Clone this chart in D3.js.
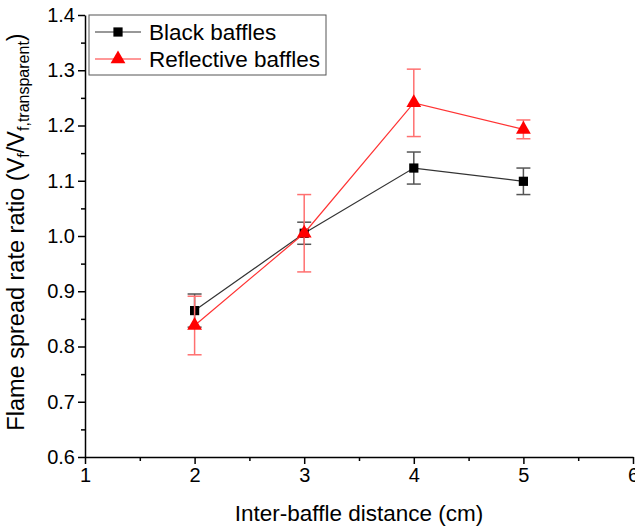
<!DOCTYPE html>
<html>
<head>
<meta charset="utf-8">
<script src="https://cdn.jsdelivr.net/npm/d3@7"></script>
<style>
  body { margin: 0; background: #fff; }
  svg { font-family: "Liberation Sans", Arial, sans-serif; }
  .axis path, .axis line { stroke: #000; stroke-width: 1.5; }
  .axis text { font-size: 20px; fill: #000; }
</style>
</head>
<body>
<div id="chart"></div>
<script>
var distances = [2, 3, 4, 5];
var blackValues = [0.865, 1.005, 1.123, 1.099];
var blackErrors = [0.030, 0.020, 0.029, 0.024];
var reflectiveValues = [0.838, 1.005, 1.241, 1.193];
var reflectiveErrors = [0.053, 0.070, 0.061, 0.017];
var xTicks = [1, 2, 3, 4, 5, 6];
var yTicks = [0.6, 0.7, 0.8, 0.9, 1.0, 1.1, 1.2, 1.3, 1.4];

var W = 635, H = 527;
var margin = {top: 15, right: 2, bottom: 70, left: 85};
var width = 633 - margin.left, height = 457 - margin.top;

var series = [
  {name: "Black baffles", values: blackValues, errors: blackErrors, color: "#000", line: "#333", err: "#555", shape: "square"},
  {name: "Reflective baffles", values: reflectiveValues, errors: reflectiveErrors, color: "#ff0000", line: "#ff3333", err: "#ff7070", shape: "triangle"}
];

var x = d3.scaleLinear().domain([1, 6]).range([0, width]);
var y = d3.scaleLinear().domain([0.6, 1.4]).range([height, 0]);

var svg = d3.select("#chart").append("svg")
    .attr("width", W).attr("height", H)
  .append("g")
    .attr("transform", "translate(" + margin.left + "," + margin.top + ")");

// minor ticks
var xMinor = d3.range(1.5, 6, 1);
var yMinor = d3.range(0.65, 1.4, 0.1);
svg.append("g").attr("class", "axis")
    .attr("transform", "translate(0," + height + ")")
    .call(d3.axisBottom(x).tickValues(xMinor).tickSize(4).tickFormat(""))
    .select(".domain").remove();
svg.append("g").attr("class", "axis")
    .call(d3.axisLeft(y).tickValues(yMinor).tickSize(4).tickFormat(""))
    .select(".domain").remove();

svg.append("g").attr("class", "axis")
    .attr("transform", "translate(0," + height + ")")
    .call(d3.axisBottom(x).tickValues(xTicks).tickSize(7).tickSizeOuter(0).tickPadding(4).tickFormat(d3.format("d")));

svg.append("g").attr("class", "axis")
    .call(d3.axisLeft(y).tickValues(yTicks).tickSize(7).tickSizeOuter(0).tickPadding(3).tickFormat(d3.format(".1f")));

// lines, error bars, markers
var tri = d3.symbol().type(d3.symbolTriangle).size(95);
var sq = d3.symbol().type(d3.symbolSquare).size(85);

series.forEach(function(s) {
  var pts = distances.map(function(d, i) { return {x: d, v: s.values[i], e: s.errors[i]}; });
  var g = svg.append("g");
  g.append("path").datum(pts)
    .attr("fill", "none").attr("stroke", s.line).attr("stroke-width", 1.2)
    .attr("d", d3.line().x(function(d) { return x(d.x); }).y(function(d) { return y(d.v); }));
  pts.forEach(function(p) {
    var cx = x(p.x), y1 = y(p.v + p.e), y2 = y(p.v - p.e);
    g.append("line").attr("x1", cx).attr("x2", cx).attr("y1", y1).attr("y2", y2)
      .attr("stroke", s.err).attr("stroke-width", 1.5);
    [y1, y2].forEach(function(yy) {
      g.append("line").attr("x1", cx - 7).attr("x2", cx + 7).attr("y1", yy).attr("y2", yy)
        .attr("stroke", s.err).attr("stroke-width", 1.5);
    });
  });
  g.selectAll(".m").data(pts).enter().append("path")
    .attr("transform", function(d) { return "translate(" + x(d.x) + "," + y(d.v) + ")"; })
    .attr("d", s.shape === "square" ? sq : tri)
    .attr("fill", s.color);
});

// legend
var lg = svg.append("g").attr("transform", "translate(4,0)");
lg.append("rect").attr("x", 0).attr("y", 0).attr("width", 237).attr("height", 60)
  .attr("fill", "#fff").attr("stroke", "#555").attr("stroke-width", 1);
series.forEach(function(s, i) {
  var yy = 17 + i * 27;
  lg.append("line").attr("x1", 6).attr("x2", 52).attr("y1", yy).attr("y2", yy)
    .attr("stroke", s.line).attr("stroke-width", 1.2);
  lg.append("path").attr("transform", "translate(29," + yy + ")")
    .attr("d", s.shape === "square" ? sq : tri).attr("fill", s.color);
  lg.append("text").attr("x", 60).attr("y", yy + 8)
    .attr("font-size", "22.5px").text(s.name);
});

// axis titles
svg.append("text")
  .attr("x", width / 2).attr("y", height + 64)
  .attr("text-anchor", "middle").attr("font-size", "22.5px")
  .text("Inter-baffle distance (cm)");

var yt = svg.append("text")
  .attr("transform", "translate(" + (-61) + "," + (height / 2 - 4) + ") rotate(-90)")
  .attr("text-anchor", "middle").attr("font-size", "23.5px");
yt.append("tspan").text("Flame spread rate ratio (V");
yt.append("tspan").attr("font-size", "16px").attr("dy", 5).text("f");
yt.append("tspan").attr("dy", -5).text("/V");
yt.append("tspan").attr("font-size", "16px").attr("dy", 5).text("f,transparent");
yt.append("tspan").attr("dy", -5).text(")");
</script>
</body>
</html>
